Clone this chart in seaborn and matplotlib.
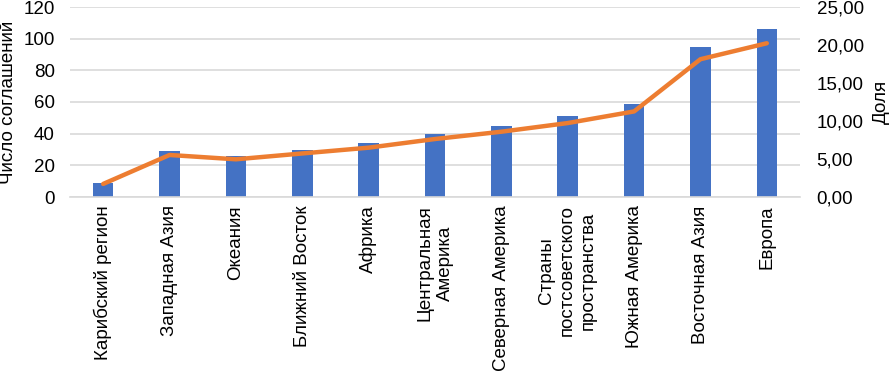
import matplotlib
matplotlib.use("Agg")
import matplotlib.pyplot as plt
import seaborn as sns
import numpy as np
import pandas as pd
from matplotlib.ticker import FuncFormatter, MultipleLocator

regions = [
    "Карибский регион",
    "Западная Азия",
    "Океания",
    "Ближний Восток",
    "Африка",
    "Центральная\nАмерика",
    "Северная Америка",
    "Страны\nпостсоветского\nпространства",
    "Южная Америка",
    "Восточная Азия",
    "Европа",
]
agreements = [9, 29, 26, 30, 34, 40, 45, 51, 59, 95, 106]
share = [1.72, 5.53, 4.96, 5.73, 6.49, 7.63, 8.59, 9.73, 11.26, 18.13, 20.23]

sns.set_theme(style="white")
plt.rcParams['font.family'] = ['Liberation Sans', 'DejaVu Sans']

BAR = "#4472C4"
LINE = "#ED7D31"
GRID = "#D9D9D9"
TXT = "#000000"
FS = 13.5

fig = plt.figure(figsize=(8.9, 3.74), dpi=100)
ax = fig.add_axes([70 / 890, 1 - 197 / 374, 730 / 890, 190 / 374])

df = pd.DataFrame({"region": regions, "n": agreements, "share": share})
sns.barplot(data=df, x="region", y="n", ax=ax, color=BAR, width=0.31,
            saturation=1, linewidth=0, zorder=2)
ax.set_xlim(-0.5, len(regions) - 0.5)
ax.set_ylim(0, 120)
ax.yaxis.set_major_locator(MultipleLocator(20))
ax.grid(axis="y", color=GRID, linewidth=1.2, zorder=0)
ax.set_axisbelow(True)
for s in ["top", "right", "left"]:
    ax.spines[s].set_visible(False)
ax.spines["bottom"].set_color(GRID)
ax.spines["bottom"].set_linewidth(1.2)
ax.tick_params(axis="y", length=0, pad=11, labelsize=FS, labelcolor=TXT)
ax.tick_params(axis="x", length=0, pad=6, labelsize=FS, labelcolor=TXT)
ax.set_xticks(range(len(regions)))
ax.set_xticklabels(regions, rotation=90, ha="center", va="top",
                   multialignment="center", linespacing=1.3)
ax.set_xlabel("")
ax.set_ylabel("")

ax2 = ax.twinx()
sns.lineplot(x=np.arange(len(share)), y=df["share"], ax=ax2, color=LINE,
             linewidth=3.2, zorder=3, solid_capstyle="round")
ax2.set_ylim(0, 25)
ax2.yaxis.set_major_locator(MultipleLocator(5))
ax2.yaxis.set_major_formatter(FuncFormatter(lambda v, p: f"{v:.2f}".replace(".", ",")))
for s in ["top", "right", "left", "bottom"]:
    ax2.spines[s].set_visible(False)
ax2.tick_params(axis="y", length=0, pad=12, labelsize=FS, labelcolor=TXT)
ax2.grid(False)
ax2.set_ylabel("")

fig.text(9 / 890, 1 - 102 / 374, "Число соглашений", rotation=90,
         ha="center", va="center", fontsize=FS, color=TXT)
fig.text(881 / 890, 1 - 102 / 374, "Доля", rotation=90,
         ha="center", va="center", fontsize=FS, color=TXT)

fig.savefig("out.png", dpi=100)
